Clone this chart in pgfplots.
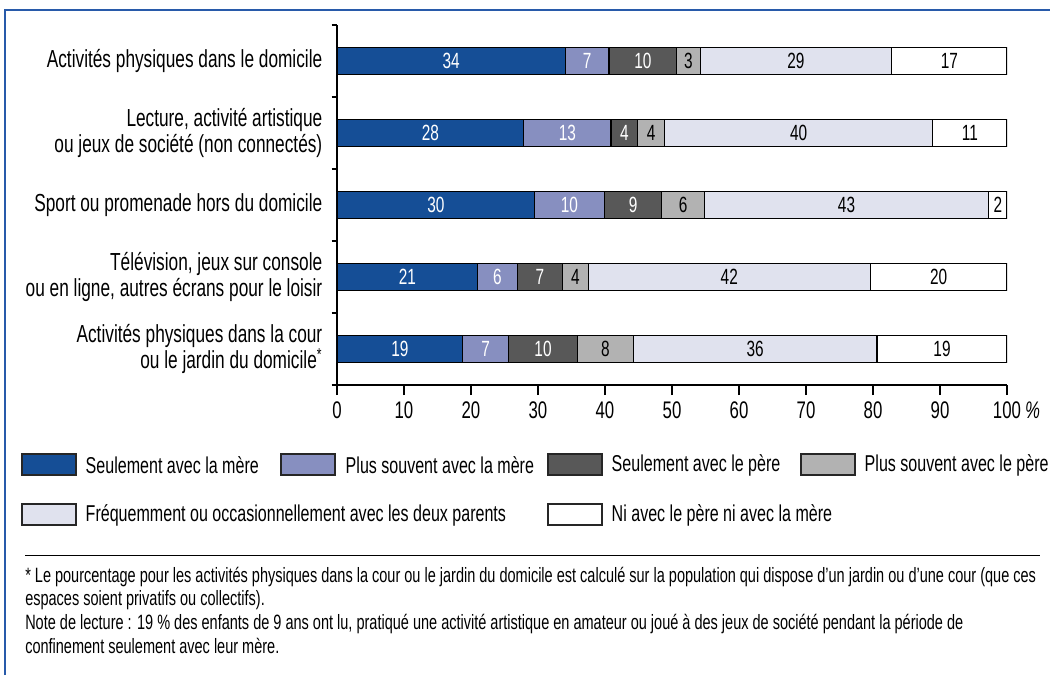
\documentclass[border=0pt]{standalone}
\usepackage{pgfplots}
\pgfplotsset{compat=1.18}
\usepackage{fontspec}
\setmainfont{Liberation Sans}[FakeStretch=0.7]
\definecolor{cA}{RGB}{21,78,150}
\definecolor{cB}{RGB}{135,143,192}
\definecolor{cC}{RGB}{88,88,88}
\definecolor{cD}{RGB}{178,178,178}
\definecolor{cE}{RGB}{224,226,238}
\definecolor{cF}{RGB}{255,255,255}
\definecolor{framec}{RGB}{40,90,170}
\newcommand{\lfont}{\fontsize{18.5}{20}\selectfont}
\newcommand{\tfont}{\fontsize{18}{20}\selectfont}
\newcommand{\vfont}{\fontsize{16.5}{17}\selectfont}
\newcommand{\gfont}{\fontsize{17.2}{18}\selectfont}
\newcommand{\ffont}{\fontsize{15.55}{17.8}\selectfont}
\pgfplotsset{
  geom/.style={at={(252.75pt,-288.75pt)}, anchor=south west,
    scale only axis, width=502.5pt, height=270pt,
    xmin=0, xmax=100, ymin=-0.5, ymax=4.5, y dir=reverse},
  seg/.style={fill=#1, draw=black, line width=0.8pt},
  lab/.style={draw=none, mark=none, nodes near coords={\pgfplotspointmeta},
    point meta=explicit symbolic,
    every node near coord/.style={anchor=center, text=#1, font=\vfont, inner sep=0}},
}
\begin{document}
\begin{tikzpicture}[x=1pt,y=1pt]
\useasboundingbox (0,0) rectangle (787.5,-506.25);
\draw[framec, line width=1.2pt] (3.75,-506.25) -- (3.75,-7.5) -- (787.5,-7.5);
\begin{axis}[
  geom,
  xbar stacked, bar width=0.375,
  axis lines*=left, axis line style={line width=0.8pt},
  tick align=outside,
  major tick length=7.5pt, minor tick length=4pt,
  tick style={black, line width=0.8pt},
  xtick={0,10,...,100},
  xticklabels={0,10,20,30,40,50,60,70,80,90,100\rlap{\,\textit{\%}}},
  ytick={0,1,2,3,4},
  minor ytick={-0.5,0.5,1.5,2.5,3.5,4.5},
  major y tick style={draw=none},
  yticklabels={
    {Activités physiques dans le domicile},
    {Lecture, activité artistique\\ou jeux de société (non connectés)},
    {Sport ou promenade hors du domicile},
    {Télévision, jeux sur console\\ou en ligne, autres écrans pour le loisir},
    {Activités physiques dans la cour\\ou le jardin du domicile\textsuperscript{*}}},
  yticklabel style={align=right, font=\lfont},
  xticklabel style={font=\tfont, yshift=-1.5pt},
  /pgf/number format/assume math mode=true,
]
\addplot[seg=cA] coordinates {(34.1,0) (27.9,1) (29.5,2) (21.0,3) (18.8,4)};
\addplot[seg=cB] coordinates {(6.5,0) (13.0,1) (10.4,2) (5.9,3) (6.8,4)};
\addplot[seg=cC] coordinates {(10.1,0) (4.0,1) (8.6,2) (6.8,3) (10.3,4)};
\addplot[seg=cD] coordinates {(3.5,0) (4.0,1) (6.3,2) (3.8,3) (8.3,4)};
\addplot[seg=cE] coordinates {(28.6,0) (40.0,1) (42.5,2) (42.1,3) (36.4,4)};
\addplot[seg=cF] coordinates {(17.2,0) (11.1,1) (2.7,2) (20.4,3) (19.4,4)};
\end{axis}
\begin{axis}[geom, hide axis, clip=false]
\addplot[lab=white] coordinates {(17.05,0)[34] (13.95,1)[28] (14.75,2)[30] (10.5,3)[21] (9.4,4)[19]};
\addplot[lab=white] coordinates {(37.35,0)[7] (34.4,1)[13] (34.7,2)[10] (23.95,3)[6] (22.2,4)[7]};
\addplot[lab=white] coordinates {(45.65,0)[10] (42.9,1)[4] (44.2,2)[9] (30.3,3)[7] (30.75,4)[10]};
\addplot[lab=black] coordinates {(52.45,0)[3] (46.9,1)[4] (51.65,2)[6] (35.6,3)[4] (40.05,4)[8]};
\addplot[lab=black] coordinates {(68.5,0)[29] (68.9,1)[40] (76.05,2)[43] (58.55,3)[42] (62.4,4)[36]};
\addplot[lab=black] coordinates {(91.4,0)[17] (94.45,1)[11] (98.65,2)[2] (89.8,3)[20] (90.3,4)[19]};
\end{axis}
% legend
\begin{scope}[line width=1.1pt, draw=black!85]
\draw[fill=cA] (16.5,-340.5) rectangle (57,-356.25);
\node[anchor=west, font=\gfont, inner sep=0] at (63.75,-348.75) {Seulement avec la mère};
\draw[fill=cB] (210.75,-340.5) rectangle (251.25,-356.25);
\node[anchor=west, font=\gfont, inner sep=0] at (258.75,-348.75) {Plus souvent avec la mère};
\draw[fill=cC] (411,-340.5) rectangle (451.5,-356.25);
\node[anchor=west, font=\gfont, inner sep=0] at (458.25,-348.75) {Seulement avec le père};
\draw[fill=cD] (600.75,-340.5) rectangle (641.25,-356.25);
\node[anchor=west, font=\gfont, inner sep=0] at (648,-348.75) {Plus souvent avec le père};
\draw[fill=cE] (16.5,-378) rectangle (57,-393.75);
\node[anchor=west, font=\gfont, inner sep=0] at (63.75,-386.25) {Fréquemment ou occasionnellement avec les deux parents};
\draw[fill=cF] (411,-378) rectangle (451.5,-393.75);
\node[anchor=west, font=\gfont, inner sep=0] at (458.25,-386.25) {Ni avec le père ni avec la mère};
\end{scope}
\draw[line width=0.6pt] (18.75,-416.25) -- (780,-416.25);
\node[anchor=north west, align=left, font=\ffont, inner sep=0] at (18.75,-425) {%
* Le pourcentage pour les activités physiques dans la cour ou le jardin du domicile est calculé sur la population qui dispose d’un jardin ou d’une cour (que ces\\
espaces soient privatifs ou collectifs).\\
Note de lecture : 19 \% des enfants de 9 ans ont lu, pratiqué une activité artistique en amateur ou joué à des jeux de société pendant la période de\\
confinement seulement avec leur mère.};
\end{tikzpicture}
\end{document}
